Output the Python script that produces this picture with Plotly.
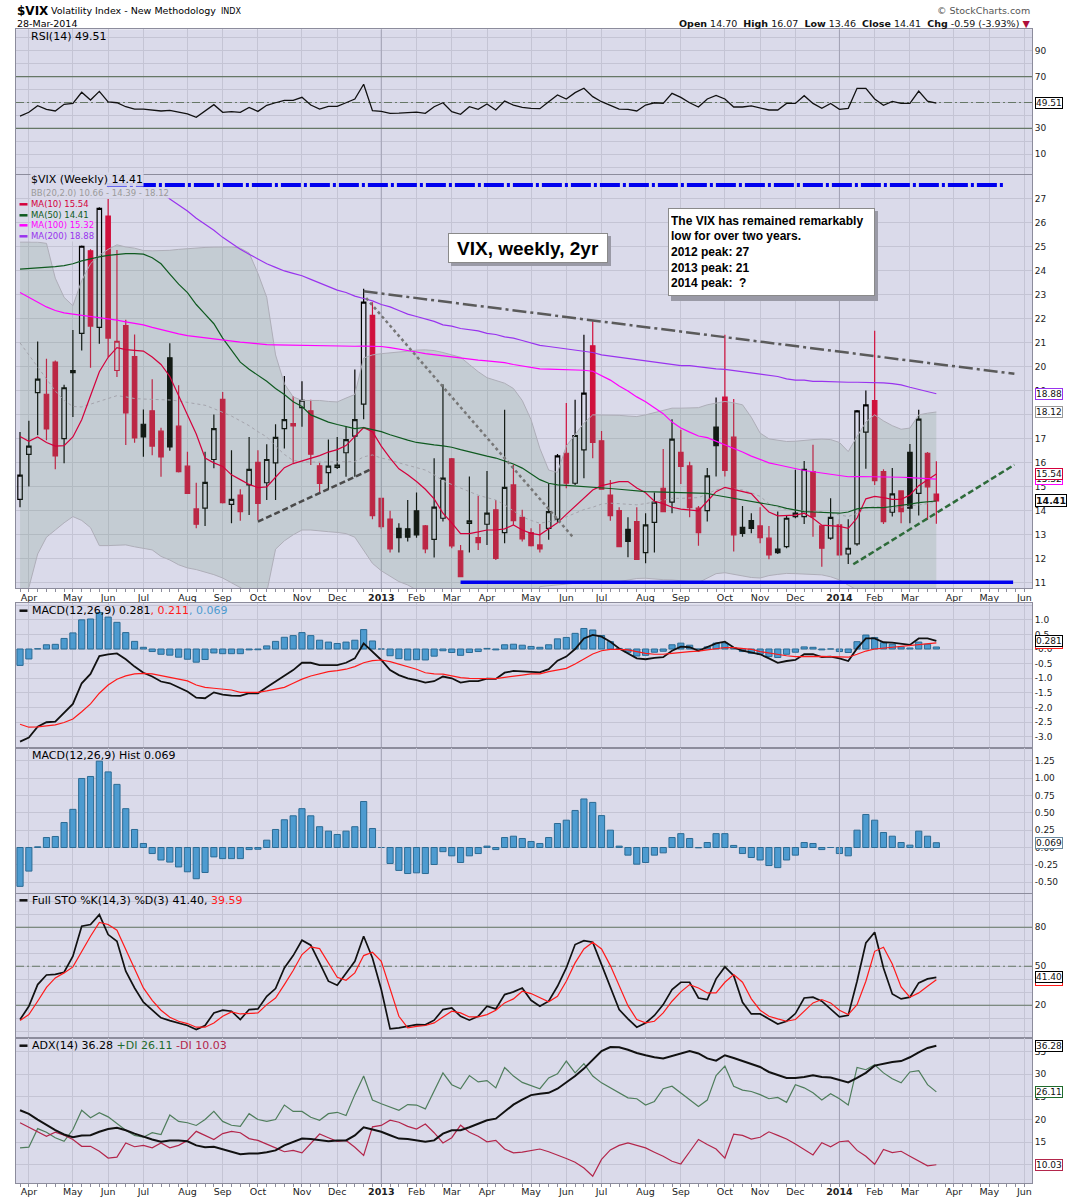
import pandas as pd
import plotly.graph_objects as go

# ── Weekly bars, dated by the Monday of each week (26-Mar-2012 .. 24-Mar-2014) ─
WEEKS = pd.date_range("2012-03-26", periods=105, freq="7D")

OPEN = [14.48, 16.35, 18.93, 18.86, 20.20, 17.01, 19.76, 21.40, 24.84, 21.65,
        26.29, 19.85, 21.72, 20.43, 17.61, 18.17, 17.32, 20.38, 17.53, 15.86,
        14.08, 14.11, 16.14, 18.65, 14.27, 14.66, 15.08, 16.02, 15.17, 16.00,
        17.43, 17.64, 18.30, 18.17, 15.88, 15.59, 15.81, 16.42, 17.11, 18.45,
        22.15, 14.52, 13.66, 13.27, 13.25, 14.00, 13.37, 12.81, 13.69, 16.17,
        12.33, 13.48, 12.88, 13.44, 14.04, 13.09, 15.08, 13.73, 13.09, 12.58,
        13.27, 13.65, 16.40, 15.15, 16.54, 20.88, 16.92, 14.66, 14.01, 13.23,
        13.55, 12.26, 13.52, 14.94, 14.36, 16.44, 15.87, 14.11, 14.01, 17.49,
        18.74, 17.07, 13.31, 13.59, 13.37, 12.86, 12.40, 12.51, 13.76, 13.76,
        15.64, 13.37, 12.86, 13.41, 12.20, 12.62, 17.28, 18.59, 15.64, 13.94,
        14.83, 16.44, 14.73, 16.40, 14.70]
HIGH = [17.29, 17.75, 21.06, 20.34, 20.27, 19.26, 21.54, 25.06, 24.90, 26.66,
        27.00, 24.87, 21.97, 21.35, 18.22, 19.49, 17.46, 20.99, 19.23, 16.46,
        15.17, 16.46, 18.02, 18.95, 16.53, 14.90, 17.08, 16.53, 16.78, 17.61,
        19.62, 18.79, 19.40, 18.63, 16.00, 16.97, 17.08, 17.53, 19.89, 23.26,
        22.70, 14.55, 14.00, 13.48, 14.45, 14.76, 13.41, 16.19, 19.28, 16.20,
        12.58, 15.43, 14.62, 15.66, 14.45, 18.21, 15.92, 14.04, 13.27, 13.45,
        15.15, 16.37, 18.49, 18.63, 21.34, 21.90, 17.33, 15.29, 14.15, 13.73,
        14.15, 13.90, 14.76, 16.58, 17.82, 17.38, 16.05, 14.20, 15.78, 18.72,
        21.34, 18.66, 14.20, 13.90, 14.15, 13.37, 13.97, 13.79, 15.71, 16.08,
        16.75, 13.40, 14.52, 13.65, 13.65, 18.20, 19.02, 21.51, 15.73, 15.78,
        14.85, 16.79, 18.21, 16.45, 16.07]
LOW = [14.15, 15.01, 17.15, 16.94, 15.73, 15.98, 17.91, 20.68, 19.96, 20.96,
       20.41, 19.58, 16.74, 16.84, 16.25, 16.32, 15.42, 16.50, 15.60, 14.70,
       13.27, 13.37, 15.77, 14.31, 13.48, 13.59, 13.83, 13.62, 14.45, 14.45,
       16.60, 16.00, 17.50, 15.91, 14.73, 14.87, 15.74, 15.42, 15.42, 17.82,
       13.65, 13.24, 12.26, 12.26, 12.72, 12.88, 12.23, 12.05, 13.55, 12.44,
       11.23, 12.26, 12.37, 12.58, 11.95, 12.65, 13.41, 12.72, 12.51, 12.26,
       12.79, 13.51, 14.94, 15.08, 15.36, 16.19, 14.88, 13.59, 12.50, 12.06,
       11.96, 11.81, 12.26, 13.95, 13.90, 15.12, 13.73, 12.54, 13.55, 15.43,
       15.43, 12.30, 12.92, 13.06, 12.65, 11.98, 12.20, 12.44, 13.69, 13.45,
       12.92, 11.67, 12.79, 12.12, 11.78, 12.54, 15.75, 15.08, 13.45, 13.76,
       13.48, 13.48, 13.80, 13.62, 13.46]
CLOSE = [15.49, 16.70, 19.49, 17.42, 16.29, 19.13, 19.85, 25.03, 21.70, 26.61,
         21.20, 21.07, 18.08, 17.04, 17.08, 16.70, 16.25, 16.67, 15.63, 14.73,
         13.44, 15.19, 17.43, 14.34, 14.48, 13.97, 15.73, 14.31, 16.14, 17.06,
         17.80, 17.54, 18.61, 16.36, 15.14, 15.86, 15.91, 16.97, 17.80, 22.70,
         13.80, 13.34, 12.41, 12.88, 12.90, 13.00, 12.41, 14.15, 15.36, 12.54,
         11.26, 13.58, 12.67, 13.90, 12.02, 14.98, 13.59, 12.83, 12.55, 12.41,
         13.97, 16.29, 15.15, 17.14, 18.91, 16.85, 14.90, 13.80, 12.51, 12.72,
         11.98, 13.41, 14.36, 13.97, 16.99, 15.85, 14.13, 13.09, 15.46, 16.72,
         15.68, 13.00, 13.06, 13.27, 12.88, 12.16, 12.26, 13.69, 13.90, 15.73,
         13.76, 12.44, 13.73, 12.16, 12.44, 18.17, 18.42, 15.26, 13.55, 14.71,
         13.97, 14.11, 17.82, 15.00, 14.41]

# ── Price overlays ────────────────────────────────────────────────────────────
BB_UPPER = [25.2, 25.2, 25.2, 25.15, 23.7, 22.9, 22.55, 23.6, 24.3, 24.65,
            24.9, 25.09, 25.0, 24.95, 24.85, 24.84, 24.84, 24.86, 24.9, 24.93,
            24.97, 24.98, 24.99, 25.0, 25.0, 24.95, 24.75, 23.9, 22.9, 20.5,
            19.3, 18.75, 18.6, 18.6, 18.6, 18.56, 18.54, 18.7, 18.85, 20.37,
            20.5, 20.55, 20.6, 20.62, 20.65, 20.7, 20.71, 20.68, 20.6, 20.5,
            20.4, 20.1, 19.8, 19.55, 19.45, 19.32, 19.1, 18.6, 17.8, 16.6,
            15.7, 15.6, 16.7, 17.2, 17.65, 18.0, 18.0, 18.0, 17.98, 17.95,
            17.93, 18.0, 18.1, 18.2, 18.28, 18.28, 18.28, 18.3, 18.42, 18.5,
            18.56, 18.5, 18.42, 17.9, 17.24, 17.0, 16.93, 16.89, 16.9, 16.95,
            16.97, 16.99, 16.97, 16.85, 16.47, 17.1, 17.7, 18.0, 17.75, 17.55,
            17.4, 17.45, 18.0, 18.07, 18.12]
BB_LOWER = [10.5, 10.8, 12.2, 12.9, 13.2, 13.5, 13.76, 13.6, 13.3, 12.55,
            12.55, 12.57, 12.58, 12.5, 12.42, 12.37, 12.1, 11.95, 11.75, 11.62,
            11.55, 11.45, 11.34, 11.2, 11.0, 10.78, 10.6, 10.5, 10.6, 12.4,
            12.75, 13.0, 13.2, 13.2, 13.15, 13.13, 13.1, 13.05, 12.9, 12.37,
            11.81, 11.5, 11.26, 11.05, 10.91, 10.7, 10.6, 10.3, 9.9, 9.7,
            9.5, 9.5, 9.5, 9.5, 9.4, 9.2, 9.0, 9.0, 9.5, 10.84,
            10.88, 10.92, 10.96, 10.98, 10.98, 10.98, 10.98, 11.0, 11.05, 11.1,
            11.18, 11.19, 11.15, 11.13, 11.12, 11.1, 11.05, 11.01, 11.2, 11.38,
            11.42, 11.35, 11.28, 11.22, 11.2, 11.3, 11.35, 11.39, 11.38, 11.36,
            11.35, 11.33, 11.25, 11.12, 10.9, 10.7, 10.6, 10.5, 10.5, 10.55,
            10.6, 10.6, 10.5, 10.6, 10.66]
BB_MID = [21.0, 20.5, 20.0, 19.5, 19.0, 18.6, 18.35, 18.33, 18.45, 18.58,
          18.7, 18.8, 18.75, 18.68, 18.66, 18.65, 18.64, 18.62, 18.58, 18.53,
          18.48, 18.4, 18.26, 18.1, 17.95, 17.75, 17.55, 17.3, 17.08, 16.7,
          16.35, 16.1, 16.04, 16.03, 16.03, 16.04, 16.04, 16.05, 16.05, 16.25,
          16.33, 16.2, 16.12, 16.0, 15.91, 15.8, 15.7, 15.5, 15.25, 15.1,
          14.95, 14.8, 14.65, 14.55, 14.45, 14.25, 14.0, 13.75, 13.6, 13.48,
          13.55, 13.62, 13.75, 13.9, 14.05, 14.15, 14.28, 14.32, 14.3, 14.27,
          14.25, 14.3, 14.38, 14.45, 14.52, 14.52, 14.52, 14.55, 14.7, 14.88,
          14.94, 14.9, 14.87, 14.75, 14.6, 14.3, 14.15, 14.05, 14.02, 14.0,
          13.98, 13.97, 13.9, 13.8, 13.76, 13.9, 14.1, 14.18, 14.15, 14.11,
          14.15, 14.2, 14.25, 14.3, 14.39]
MA10 = [17.1, 16.9, 17.08, 16.85, 16.7, 16.72, 17.08, 17.8, 18.8, 19.8,
        20.4, 20.8, 20.72, 20.68, 20.66, 20.41, 20.1, 19.6, 18.8, 18.0,
        17.2, 16.2, 16.0, 15.85, 15.5, 15.3, 15.1, 14.97, 15.0, 15.4,
        15.8, 15.97, 16.08, 16.2, 16.3, 16.45, 16.55, 16.72, 17.1, 17.47,
        17.3, 16.7, 16.2, 15.75, 15.5, 15.22, 14.9, 14.5, 13.9, 13.5,
        13.05, 13.05, 13.12, 13.2, 13.2, 13.25, 13.41, 13.2, 13.06, 13.0,
        13.25, 13.5, 13.85, 14.18, 14.55, 14.87, 15.05, 15.15, 15.22, 15.22,
        14.95, 14.75, 14.4, 14.3, 14.15, 14.07, 14.02, 14.0, 14.4, 14.8,
        14.98, 14.9, 14.8, 14.72, 14.32, 13.95, 13.79, 13.79, 13.82, 13.9,
        13.69, 13.4, 13.37, 13.35, 13.27, 13.7, 14.5, 14.6, 14.55, 14.48,
        14.48, 14.66, 15.05, 15.3, 15.54]
MA50 = [24.08, 24.1, 24.12, 24.15, 24.18, 24.22, 24.3, 24.42, 24.52, 24.59,
        24.65, 24.7, 24.72, 24.72, 24.7, 24.55, 24.3, 23.87, 23.45, 23.1,
        22.6, 22.2, 21.8, 21.2, 20.7, 20.2, 19.9, 19.65, 19.4, 19.1,
        18.85, 18.55, 18.35, 18.0, 17.85, 17.7, 17.6, 17.5, 17.43, 17.47,
        17.4, 17.3, 17.17, 17.05, 16.95, 16.85, 16.79, 16.75, 16.71, 16.65,
        16.55, 16.45, 16.35, 16.28, 16.2, 16.07, 15.95, 15.78, 15.55, 15.3,
        15.15, 15.08, 15.06, 15.04, 15.02, 15.0, 14.96, 14.93, 14.9, 14.86,
        14.82, 14.8, 14.79, 14.78, 14.76, 14.75, 14.74, 14.73, 14.73, 14.65,
        14.59, 14.52, 14.45, 14.38, 14.32, 14.26, 14.2, 14.1, 14.02, 13.97,
        13.95, 13.93, 13.92, 13.9, 13.95, 14.08, 14.13, 14.13, 14.13, 14.18,
        14.22, 14.28, 14.34, 14.38, 14.41]
MA100 = [23.1, 22.9, 22.7, 22.5, 22.35, 22.25, 22.2, 22.15, 22.12, 22.07,
         22.0, 21.95, 21.88, 21.82, 21.75, 21.65, 21.55, 21.45, 21.38, 21.3,
         21.25, 21.2, 21.15, 21.1, 21.07, 21.03, 21.0, 20.96, 20.93, 20.92,
         20.91, 20.9, 20.9, 20.89, 20.88, 20.87, 20.86, 20.86, 20.86, 20.87,
         20.87, 20.85, 20.8, 20.75, 20.7, 20.62, 20.55, 20.5, 20.45, 20.4,
         20.36, 20.32, 20.28, 20.25, 20.22, 20.18, 20.1, 20.03, 19.96, 19.92,
         19.91, 19.9, 19.89, 19.88, 19.86, 19.82, 19.65, 19.45, 19.2, 19.0,
         18.75, 18.55, 18.3, 18.05, 17.7, 17.45, 17.28, 17.12, 17.05, 16.9,
         16.78, 16.6, 16.45, 16.28, 16.15, 16.0, 15.92, 15.83, 15.75, 15.68,
         15.63, 15.58, 15.52, 15.46, 15.42, 15.43, 15.43, 15.43, 15.43, 15.42,
         15.4, 15.38, 15.35, 15.33, 15.32]
# first weeks sit above the panel / behind the legend
MA200 = [None] * 16 + [
    27.25, 27.0, 26.75, 26.5, 26.2, 25.95, 25.7, 25.4, 25.15, 24.9,
    24.7, 24.5, 24.3, 24.15, 24.0, 23.9, 23.8, 23.65, 23.5, 23.35,
    23.2, 23.1, 22.95, 22.85, 22.75, 22.6, 22.5, 22.35, 22.2, 22.1,
    22.0, 21.9, 21.75, 21.7, 21.6, 21.55, 21.5, 21.4, 21.35, 21.25,
    21.2, 21.1, 21.0, 20.9, 20.85, 20.8, 20.75, 20.7, 20.65, 20.6,
    20.5, 20.45, 20.4, 20.35, 20.3, 20.25, 20.2, 20.15, 20.1, 20.05,
    20.05, 20.0, 19.95, 19.92, 19.9, 19.85, 19.8, 19.75, 19.7, 19.65,
    19.6, 19.5, 19.45, 19.45, 19.4, 19.4, 19.38, 19.37, 19.36, 19.36,
    19.36, 19.35, 19.33, 19.3, 19.25, 19.15, 19.05, 18.95, 18.88]

# ── Indicator panels ──────────────────────────────────────────────────────────
RSI = [39.5, 42.4, 47.5, 44.7, 43.4, 48.6, 49.3, 57.9, 51.9, 58.6,
       50.4, 49.8, 46.7, 44.9, 44.9, 44.4, 43.4, 43.9, 42.4, 41.1,
       38.5, 43.4, 48.3, 42.4, 42.9, 42.4, 46.2, 43.1, 47.8, 49.8,
       51.7, 51.7, 54.0, 48.0, 44.9, 47.0, 47.0, 49.8, 52.7, 64.1,
       43.6, 43.1, 41.6, 41.8, 42.1, 42.6, 41.6, 46.7, 49.8, 42.9,
       40.8, 46.7, 44.7, 48.8, 44.2, 51.1, 48.0, 46.2, 45.5, 45.2,
       50.6, 55.8, 52.7, 57.6, 61.0, 54.5, 50.6, 48.0, 44.9, 44.7,
       43.4, 48.0, 49.8, 49.3, 57.1, 54.0, 49.8, 46.5, 52.7, 55.5,
       52.7, 46.5, 46.5, 47.3, 45.7, 44.2, 44.2, 49.3, 49.3, 55.3,
       49.3, 45.5, 49.3, 44.7, 45.5, 61.0, 61.0, 52.7, 47.8, 50.9,
       49.3, 49.3, 58.9, 51.1, 49.51]
MACD = [-3.16, -3.02, -2.65, -2.50, -2.48, -2.19, -1.875, -1.17, -0.85, -0.24,
        -0.18, -0.15, -0.35, -0.60, -0.81, -0.94, -1.11, -1.17, -1.31, -1.45,
        -1.66, -1.68, -1.48, -1.56, -1.59, -1.60, -1.51, -1.51, -1.31, -1.11,
        -0.89, -0.72, -0.47, -0.47, -0.55, -0.55, -0.55, -0.47, -0.32, 0.19,
        -0.09, -0.375, -0.72, -0.89, -1.00, -1.06, -1.15, -1.10, -0.94, -1.00,
        -1.15, -1.10, -1.10, -1.01, -1.02, -0.81, -0.75, -0.76, -0.78, -0.80,
        -0.69, -0.40, -0.26, 0.00, 0.36, 0.48, 0.42, 0.25, 0.02, -0.15,
        -0.32, -0.35, -0.30, -0.28, -0.06, 0.08, 0.06, -0.06, 0.06, 0.19,
        0.25, 0.05, -0.06, -0.125, -0.18, -0.32, -0.47, -0.41, -0.375, -0.18,
        -0.18, -0.28, -0.26, -0.32, -0.41, 0.02, 0.36, 0.36, 0.23, 0.22,
        0.17, 0.14, 0.36, 0.36, 0.281]
SIGNAL = [-2.57, -2.67, -2.66, -2.63, -2.59, -2.51, -2.39, -2.14, -1.875, -1.51,
          -1.23, -1.03, -0.92, -0.85, -0.83, -0.85, -0.91, -0.97, -1.03, -1.09,
          -1.23, -1.31, -1.34, -1.375, -1.40, -1.48, -1.49, -1.48, -1.43, -1.375,
          -1.31, -1.17, -1.03, -0.92, -0.85, -0.77, -0.74, -0.69, -0.60, -0.47,
          -0.40, -0.375, -0.43, -0.51, -0.60, -0.69, -0.81, -0.85, -0.86, -0.92,
          -0.98, -1.00, -1.00, -1.00, -1.01, -0.97, -0.92, -0.89, -0.85, -0.85,
          -0.77, -0.72, -0.66, -0.51, -0.35, -0.17, -0.06, -0.01, -0.01, -0.03,
          -0.09, -0.15, -0.18, -0.18, -0.15, -0.11, -0.09, -0.07, -0.03, 0.00,
          0.05, 0.05, 0.01, -0.01, -0.09, -0.14, -0.19, -0.23, -0.26, -0.25,
          -0.24, -0.25, -0.26, -0.26, -0.28, -0.18, -0.07, 0.00, 0.03, 0.06,
          0.08, 0.11, 0.16, 0.19, 0.211]
HIST = [-0.56, -0.34, 0.01, 0.144, 0.159, 0.36, 0.55, 0.995, 1.024, 1.245,
        1.09, 0.91, 0.56, 0.26, 0.058, -0.087, -0.18, -0.21, -0.28, -0.35,
        -0.45, -0.36, -0.135, -0.16, -0.16, -0.16, -0.03, -0.025, 0.106, 0.26,
        0.40, 0.457, 0.56, 0.457, 0.30, 0.236, 0.188, 0.236, 0.30, 0.663,
        0.274, 0.0, -0.23, -0.33, -0.375, -0.365, -0.375, -0.245, -0.06, -0.12,
        -0.216, -0.12, -0.087, 0.02, -0.03, 0.144, 0.163, 0.13, 0.087, 0.058,
        0.144, 0.346, 0.394, 0.534, 0.70, 0.65, 0.46, 0.25, 0.02, -0.11,
        -0.24, -0.216, -0.11, -0.077, 0.144, 0.20, 0.13, -0.005, 0.072, 0.20,
        0.20, 0.03, -0.087, -0.144, -0.18, -0.26, -0.29, -0.18, -0.11, 0.072,
        0.058, -0.03, 0.0, -0.087, -0.12, 0.25, 0.476, 0.394, 0.216, 0.163,
        0.072, 0.034, 0.236, 0.163, 0.069]
STO_K = [9.0, 19.2, 35.9, 43.3, 43.8, 45.4, 57.7, 80.8, 82.1, 89.7,
         74.4, 69.2, 46.2, 33.3, 22.3, 16.2, 10.3, 8.2, 6.4, 4.4,
         1.3, 4.4, 14.1, 16.2, 15.4, 9.0, 16.7, 17.2, 26.9, 32.8,
         48.7, 58.2, 70.0, 66.2, 52.6, 38.5, 35.4, 44.4, 53.8, 73.1,
         56.4, 32.1, 1.8, 2.6, 3.8, 5.1, 4.9, 8.5, 16.7, 17.9,
         11.5, 8.5, 11.5, 19.2, 17.2, 28.2, 30.3, 33.3, 23.8, 19.2,
         23.1, 34.6, 48.7, 66.7, 69.7, 68.5, 51.3, 33.3, 16.7, 9.5,
         3.1, 6.4, 12.1, 20.5, 32.1, 37.7, 37.7, 25.6, 24.4, 40.3,
         49.5, 42.8, 22.3, 13.3, 13.3, 9.5, 5.6, 7.7, 13.6, 25.6,
         26.2, 23.1, 16.7, 11.0, 12.3, 38.5, 67.9, 76.2, 48.7, 28.7,
         24.9, 26.2, 37.2, 40.3, 41.40]
STO_D = [8.2, 12.8, 23.1, 33.8, 41.0, 44.9, 49.5, 61.5, 73.1, 83.8,
         82.1, 77.7, 62.8, 47.4, 33.3, 23.8, 16.2, 10.8, 7.7, 5.9,
         3.1, 3.1, 6.4, 11.5, 14.9, 13.3, 13.6, 14.1, 20.5, 25.6,
         35.9, 46.7, 59.0, 64.9, 63.6, 52.6, 41.5, 39.2, 44.9, 58.2,
         60.8, 53.8, 32.1, 11.5, 2.6, 3.8, 4.4, 6.4, 11.0, 15.4,
         14.1, 11.0, 11.0, 12.8, 16.2, 21.8, 24.9, 30.8, 29.0, 25.6,
         22.6, 26.9, 38.5, 52.6, 63.3, 68.5, 63.3, 50.5, 34.6, 19.7,
         9.0, 6.4, 7.7, 14.1, 23.1, 30.3, 35.9, 33.3, 29.5, 29.5,
         37.7, 43.6, 37.7, 24.9, 16.2, 11.5, 9.5, 7.7, 9.0, 15.4,
         21.8, 24.4, 21.8, 16.2, 12.8, 20.5, 38.5, 61.5, 64.6, 51.8,
         34.1, 26.2, 29.5, 34.6, 39.59]
ADX = [22.06, 21.25, 20.0, 18.75, 17.65, 16.7, 16.1, 16.5, 16.55, 17.3,
       17.9, 18.2, 17.65, 16.9, 16.2, 15.6, 15.1, 15.4, 15.4, 15.2,
       14.3, 13.9, 14.0, 13.5, 12.9, 12.35, 12.5, 12.5, 12.8, 13.2,
       14.3, 15.0, 15.8, 15.7, 15.4, 15.2, 15.4, 15.4, 16.5, 18.3,
       17.8, 17.3, 16.55, 15.8, 15.7, 15.4, 15.1, 15.4, 16.9, 17.65,
       17.65, 18.3, 19.0, 19.85, 20.2, 21.8, 23.3, 24.4, 25.4, 25.7,
       25.9, 26.8, 28.2, 29.6, 31.25, 33.2, 35.1, 36.0, 35.95, 35.4,
       34.7, 34.2, 33.75, 33.5, 34.0, 34.6, 35.1, 34.6, 33.5, 33.0,
       34.2, 33.6, 32.9, 32.3, 31.6, 30.5, 29.8, 29.2, 29.2, 29.4,
       29.8, 29.4, 29.3, 28.8, 28.2, 29.2, 30.3, 31.9, 32.35, 32.7,
       32.9, 33.75, 34.85, 35.8, 36.28]
PLUS_DI = [13.75, 13.9, 18.0, 17.2, 16.0, 15.2, 17.8, 22.06, 20.4, 21.5,
           20.6, 19.1, 17.65, 16.5, 16.1, 17.1, 16.7, 21.0, 19.6, 19.3,
           18.7, 20.0, 21.8, 19.6, 18.75, 18.5, 21.3, 20.0, 19.6, 20.0,
           23.2, 21.8, 21.8, 20.5, 19.85, 21.3, 21.6, 20.9, 25.5, 29.6,
           24.3, 23.5, 22.8, 22.06, 23.3, 23.2, 22.35, 26.4, 30.3, 27.7,
           26.8, 29.7, 28.3, 28.6, 27.0, 31.5, 29.6, 28.2, 27.5, 26.8,
           29.2, 30.1, 32.9, 30.3, 32.35, 29.6, 28.1, 27.0, 25.9, 24.8,
           24.6, 23.2, 24.0, 26.8, 27.35, 25.9, 24.4, 22.9, 24.3, 29.7,
           31.8, 27.35, 26.5, 26.2, 25.5, 24.6, 24.9, 23.8, 27.7, 27.0,
           25.9, 24.3, 25.7, 24.6, 23.2, 31.5, 31.0, 32.1, 30.3, 29.0,
           28.1, 30.5, 30.8, 27.7, 26.11]
MINUS_DI = [19.3, 18.3, 17.2, 16.3, 17.2, 16.55, 15.6, 14.1, 14.1, 13.0,
            11.5, 11.7, 14.85, 14.0, 14.3, 13.75, 14.85, 13.75, 14.3, 15.4,
            17.4, 16.5, 15.6, 16.9, 17.4, 17.1, 15.8, 15.4, 14.5, 13.75,
            12.9, 13.2, 12.65, 14.85, 16.8, 16.0, 15.2, 15.4, 13.9, 12.1,
            18.4, 18.7, 19.85, 19.4, 18.5, 17.9, 19.0, 17.1, 14.85, 16.0,
            18.75, 17.2, 16.3, 15.1, 15.4, 13.5, 12.65, 12.8, 13.2, 13.5,
            12.9, 12.2, 11.4, 10.6, 9.3, 7.5, 11.2, 13.3, 14.3, 14.85,
            14.3, 13.75, 12.8, 11.9, 10.8, 10.2, 12.9, 15.6, 14.5, 13.5,
            11.5, 16.8, 16.5, 15.7, 16.1, 17.3, 16.5, 15.7, 14.6, 13.4,
            12.2, 14.9, 14.0, 15.1, 15.3, 13.2, 11.9, 10.15, 13.4, 12.7,
            13.0, 11.9, 10.8, 9.8, 10.03]

# hand-drawn chart lines: (start date, start price, end date, end price)
TRENDLINES = [
    ("2012-06-03", 27.58, "2014-05-16", 27.58),   # blue ceiling
    ("2013-03-11", 11.02, "2014-05-24", 11.02),   # blue floor
    ("2012-12-24", 23.15, "2014-05-25", 19.71),   # falling peaks
    ("2012-12-26", 22.87, "2013-06-08", 12.92),   # dotted decline
    ("2012-10-01", 13.55, "2012-12-29", 15.71),   # 2012 rising lows
    ("2014-01-17", 11.77, "2014-05-25", 15.92),   # 2014 rising lows
]

# ── Axis ticks ────────────────────────────────────────────────────────────────
MONTH_TICKS = ["2012-04-02", "2012-05-07", "2012-06-04", "2012-07-02", "2012-08-06",
               "2012-09-03", "2012-10-01", "2012-11-05", "2012-12-03", "2013-01-07",
               "2013-02-04", "2013-03-04", "2013-04-01", "2013-05-06", "2013-06-03",
               "2013-07-01", "2013-08-05", "2013-09-02", "2013-10-07", "2013-11-04",
               "2013-12-02", "2014-01-06", "2014-02-03", "2014-03-03", "2014-04-07",
               "2014-05-05", "2014-06-02"]
MONTH_LABELS = ["Apr", "May", "Jun", "Jul", "Aug", "Sep", "Oct", "Nov", "Dec",
                "<b>2013</b>", "Feb", "Mar", "Apr", "May", "Jun", "Jul", "Aug", "Sep",
                "Oct", "Nov", "Dec", "<b>2014</b>", "Feb", "Mar", "Apr", "May", "Jun"]
YEAR_STARTS = ["2013-01-07", "2014-01-06"]
RSI_TICKS = [0, 10, 20, 30, 40, 50, 60, 70, 80, 90, 100]
RSI_LABELS = ["", "10", "", "30", "", "", "", "70", "", "90", ""]
PRICE_TICKS = [11, 12, 13, 14, 15, 16, 17, 18, 19, 20, 21, 22, 23, 24, 25, 26, 27]
PRICE_LABELS = [str(v) for v in PRICE_TICKS]
MACD_TICKS = [-3.0, -2.5, -2.0, -1.5, -1.0, -0.5, 0.0, 0.5, 1.0, 1.5]
MACD_LABELS = ["-3.0", "-2.5", "-2.0", "-1.5", "-1.0", "-0.5", "-0.0", "0.5", "1.0", ""]
HIST_TICKS = [-0.5, -0.25, 0.0, 0.25, 0.5, 0.75, 1.0, 1.25]
HIST_LABELS = ["-0.50", "-0.25", "0.00", "0.25", "0.50", "0.75", "1.00", "1.25"]
STO_TICKS = [0, 10, 20, 30, 40, 50, 60, 70, 80, 90, 100]
STO_LABELS = ["", "", "20", "", "", "50", "", "", "80", "", ""]
ADX_TICKS = [10, 15, 20, 25, 30, 35]
ADX_LABELS = ["10", "15", "20", "25", "30", "35"]

for series in (OPEN, HIGH, LOW, CLOSE, BB_UPPER, BB_LOWER, BB_MID, MA10, MA50, MA100,
               MA200, RSI, MACD, SIGNAL, HIST, STO_K, STO_D, ADX, PLUS_DI, MINUS_DI):
    assert len(series) == len(WEEKS), len(series)

# ── Colours ───────────────────────────────────────────────────────────────────
C_BG      = "#dadaea"
C_GRID    = "#c4c4d4"
C_FRAME   = "#8c8c9c"
C_YEAR    = "#a2a2b4"
C_RED     = "#d0103c"
C_MA10    = "#d4003c"
C_MA50    = "#0f5a20"
C_MA100   = "#ff00ff"
C_MA200   = "#9933ee"
C_BB      = "#aeaeb8"
C_BB_FILL = "rgba(100,145,110,0.18)"   # translucent: the bars show through it
C_HIST    = "#4d9bd0"
C_HIST_LN = "#2b6b94"
C_PDI     = "#4f7d5c"
C_PDI_TXT = "#1f6b2c"
C_MDI     = "#b3264b"
C_REF     = "#667766"

# ── Page geometry (pixels of the 1075x1200 page) ─────────────────────────────
FIG_W, FIG_H = 1075, 1200
PLOT_L, PLOT_R = 16, 1032
WEEK_MS = 7 * 24 * 3600 * 1000
X_RANGE = ["2012-03-22 19:00", "2014-06-08"]


def fx(px):
    return (px - PLOT_L) / (PLOT_R - PLOT_L)


def fy(py):
    return 1 - py / FIG_H


# panel: top px, bottom px, y range, ticks, tick labels
PANELS = [
    (29.3, 174.0, [-5.4, 106.7], RSI_TICKS, RSI_LABELS),
    (175.0, 588.3, [10.77, 28.0], PRICE_TICKS, PRICE_LABELS),
    (603.3, 748.3, [-3.39, 1.56], MACD_TICKS, MACD_LABELS),
    (748.3, 893.3, [-0.66, 1.43], HIST_TICKS, HIST_LABELS),
    (894.0, 1038.0, [-5.2, 105.6], STO_TICKS, STO_LABELS),
    (1038.0, 1183.0, [6.0, 38.0], ADX_TICKS, ADX_LABELS),
]


def ax(i):
    return ("x" if i == 1 else f"x{i}"), ("y" if i == 1 else f"y{i}")


def line(i, y, color, width, dash="solid", x=None):
    xa, ya = ax(i)
    return go.Scatter(x=WEEKS if x is None else x, y=y, mode="lines", xaxis=xa, yaxis=ya,
                      line=dict(color=color, width=width, dash=dash),
                      hoverinfo="skip", connectgaps=False)


fig = go.Figure()

# darker year separators, under everything else
for i, (top, bot, yr, tv, tt) in enumerate(PANELS, start=1):
    for d in YEAR_STARTS:
        fig.add_trace(line(i, yr, C_YEAR, 1, x=[d, d]))

# overbought / oversold guides
for i, levels in ((1, (30, 50, 70)), (5, (20, 50, 80))):
    for k, lv in enumerate(levels):
        fig.add_trace(line(i, [lv, lv], C_REF, 1.2,
                           "8px,3px,2px,3px" if k == 1 else "solid", x=X_RANGE))

# RSI
fig.add_trace(line(1, RSI, "#111111", 1.3))

# Price: candles (box layer) sit under the translucent Bollinger band
up = [i == 0 or CLOSE[i] >= CLOSE[i - 1] for i in range(len(CLOSE))]
for want, colour in ((True, "#000000"), (False, C_RED)):
    idx = [i for i, u in enumerate(up) if u == want]
    fig.add_trace(go.Candlestick(
        x=[WEEKS[i] for i in idx],
        open=[OPEN[i] for i in idx], high=[HIGH[i] for i in idx],
        low=[LOW[i] for i in idx], close=[CLOSE[i] for i in idx],
        increasing=dict(line=dict(color=colour, width=1.2), fillcolor="rgba(0,0,0,0)"),
        decreasing=dict(line=dict(color=colour, width=1.2), fillcolor=colour),
        whiskerwidth=0, xaxis="x2", yaxis="y2", hoverinfo="skip",
    ))

fig.add_trace(line(2, BB_UPPER, C_BB, 1))
lower = line(2, BB_LOWER, C_BB, 1)
lower.update(fill="tonexty", fillcolor=C_BB_FILL)
fig.add_trace(lower)
fig.add_trace(line(2, BB_MID, "#a4a4ac", 1, "dot"))

fig.add_trace(line(2, MA10, C_MA10, 1.2))
fig.add_trace(line(2, MA50, C_MA50, 1.2))
fig.add_trace(line(2, MA100, C_MA100, 1.2))
fig.add_trace(line(2, MA200, C_MA200, 1.2))

# MACD with its histogram behind
for i in (3, 4):
    xa, ya = ax(i)
    fig.add_trace(go.Bar(x=WEEKS, y=HIST, xaxis=xa, yaxis=ya,
                         marker=dict(color=C_HIST, line=dict(color=C_HIST_LN, width=1)),
                         hoverinfo="skip"))
fig.add_trace(line(3, MACD, "#111111", 1.8))
fig.add_trace(line(3, SIGNAL, "#ff1a1a", 1.2))

# Full stochastics
fig.add_trace(line(5, STO_K, "#111111", 1.7))
fig.add_trace(line(5, STO_D, "#ff1a1a", 1.2))

# ADX
fig.add_trace(line(6, PLUS_DI, C_PDI, 1.2))
fig.add_trace(line(6, MINUS_DI, C_MDI, 1.2))
fig.add_trace(line(6, ADX, "#111111", 2.0))

# ── Axes ──────────────────────────────────────────────────────────────────────
layout = {}
for i, (top, bot, yr, tv, tt) in enumerate(PANELS, start=1):
    xa, ya = ax(i)
    xax = dict(type="date", range=X_RANGE, domain=[0, 1], anchor=ya,
               tickmode="array", tickvals=MONTH_TICKS, ticktext=MONTH_LABELS,
               showticklabels=i in (2, 6), ticks="",
               tickfont=dict(size=9.5, color="#222222"),
               showgrid=True, gridcolor=C_GRID, gridwidth=1,
               showline=True, mirror=True, linecolor=C_FRAME, linewidth=1,
               zeroline=False, rangeslider=dict(visible=False))
    if i != 1:
        xax["matches"] = "x"
    if i in (2, 6):
        xax["minor"] = dict(ticks="outside", ticklen=3, tickcolor=C_FRAME,
                            dtick=WEEK_MS, tick0="2012-03-26", showgrid=False)
    yax = dict(domain=[fy(bot), fy(top)], range=yr, anchor=xa, side="right",
               tickmode="array", tickvals=tv, ticktext=tt, ticks="",
               tickfont=dict(size=9, color="#222222"),
               showgrid=True, gridcolor=C_GRID, gridwidth=1,
               showline=True, mirror=True, linecolor=C_FRAME, linewidth=1,
               zeroline=False)
    layout["xaxis" if i == 1 else f"xaxis{i}"] = xax
    layout["yaxis" if i == 1 else f"yaxis{i}"] = yax

# ── Shapes ────────────────────────────────────────────────────────────────────
shapes = []
TREND_STYLES = [
    dict(color="#0000ee", width=4, dash="20px,3px,3px,3px"),
    dict(color="#0000ee", width=3.5),
    dict(color="#5a5a5a", width=2.5, dash="14px,4px,3px,4px"),
    dict(color="#767676", width=2.5, dash="dot"),
    dict(color="#4a4a4a", width=2.5, dash="6px,3px"),
    dict(color="#2e6b3a", width=2.5, dash="6px,3px"),
]
for (x0, y0, x1, y1), style in zip(TRENDLINES, TREND_STYLES):
    shapes.append(dict(type="line", xref="x2", yref="y2", x0=x0, y0=y0, x1=x1, y1=y1,
                       layer="above", line=style))

# legend colour dashes
for py, colour in ((204.3, C_MA10), (215.3, C_MA50), (225.3, C_MA100), (236.3, C_MA200),
                   (610.7, "#111111"), (900.3, "#111111"), (1045.7, "#111111")):
    shapes.append(dict(type="line", xref="paper", yref="paper", x0=fx(19.5), x1=fx(27.5),
                       y0=fy(py), y1=fy(py), layer="above",
                       line=dict(color=colour, width=2.5)))

# drop shadows of the two text boxes
for l, t, r, b in ((448, 233, 608, 263), (668, 208, 875, 298)):
    shapes.append(dict(type="rect", xref="paper", yref="paper",
                       x0=fx(l + 3), x1=fx(r + 3), y0=fy(b + 3), y1=fy(t + 3),
                       layer="above", fillcolor="#9a9aa6", line=dict(width=0)))

# ── Annotations ───────────────────────────────────────────────────────────────
LEG_BG = "rgba(218,218,234,0.92)"


def text(s, px, py, size, color="#000000", anchor="left", bg=None):
    a = dict(xref="paper", yref="paper", x=fx(px), y=fy(py), xanchor=anchor,
             yanchor="middle", text=s, showarrow=False, borderpad=0,
             font=dict(size=size, color=color))
    if bg:
        a["bgcolor"] = bg
    return a


chg = CLOSE[-1] - CLOSE[-2]
nb = "\u00a0"
annotations = [
    text("<b>$VIX</b>", 15.5, 10.5, 12),
    text("Volatility Index - New Methodology", 49.5, 11, 9.5),
    text("INDX", 220, 11.5, 8),
    text("28-Mar-2014", 15.5, 23.5, 9.5),
    text("\u00a9 StockCharts.com", 1031, 10.7, 9.5, "#555555", "right"),
    text(f"<b>Open</b> {OPEN[-1]:.2f}{nb}{nb}<b>High</b> {HIGH[-1]:.2f}{nb}{nb}"
         f"<b>Low</b> {LOW[-1]:.2f}{nb}{nb}<b>Close</b> {CLOSE[-1]:.2f}{nb}{nb}"
         f"<b>Chg</b> {chg:.2f} ({chg / CLOSE[-2] * 100:.2f}%) "
         f"<span style='color:#b0103a'>\u25bc</span>", 1031, 23.5, 9.5, "#111111", "right"),
    # panel titles
    text(f"RSI(14) {RSI[-1]:.2f}", 30, 36, 11),
    text(f"$VIX (Weekly) {CLOSE[-1]:.2f}", 30, 179.5, 11, bg=LEG_BG),
    text(f"BB(20,2.0) {BB_LOWER[-1]:.2f} - {BB_MID[-1]:.2f} - {BB_UPPER[-1]:.2f}",
         30, 192.7, 8.5, "#9a9a9a", bg=LEG_BG),
    text(f"MA(10) {MA10[-1]:.2f}", 30, 204.3, 8.5, C_MA10, bg=LEG_BG),
    text(f"MA(50) {MA50[-1]:.2f}", 30, 215.3, 8.5, C_MA50, bg=LEG_BG),
    text(f"MA(100) {MA100[-1]:.2f}", 30, 225.3, 8.5, C_MA100, bg=LEG_BG),
    text(f"MA(200) {MA200[-1]:.2f}", 30, 236.3, 8.5, C_MA200, bg=LEG_BG),
    text(f"MACD(12,26,9) {MACD[-1]:.3f}<span style='color:#ff1a1a'>, {SIGNAL[-1]:.3f}</span>"
         f"<span style='color:{C_HIST}'>, {HIST[-1]:.3f}</span>", 31, 610.7, 11),
    text(f"MACD(12,26,9) Hist {HIST[-1]:.3f}", 31, 755.3, 11),
    text(f"Full STO %K(14,3) %D(3) {STO_K[-1]:.2f}, "
         f"<span style='color:#ff1a1a'>{STO_D[-1]:.2f}</span>", 31, 900.3, 11),
    text(f"ADX(14) {ADX[-1]:.2f} <span style='color:{C_PDI_TXT}'>+DI {PLUS_DI[-1]:.2f}</span> "
         f"<span style='color:{C_MDI}'>-DI {MINUS_DI[-1]:.2f}</span>", 31, 1045.7, 11),
]

# chart notes
annotations.append(dict(
    xref="paper", yref="paper", x=fx(528), y=fy(248), xanchor="center", yanchor="middle",
    text="<b>VIX, weekly, 2yr</b>", showarrow=False, width=154, height=24, borderpad=2,
    bgcolor="#ffffff", bordercolor="#8a8a8a", borderwidth=1,
    font=dict(family="Liberation Sans", size=19, color="#000000")))
annotations.append(dict(
    xref="paper", yref="paper", x=fx(668), y=fy(208), xanchor="left", yanchor="top",
    text="<b>The VIX has remained remarkably<br>low for over two years.<br>"
         "2012 peak: 27<br>2013 peak: 21<br>2014 peak:\u00a0\u00a0?</b>",
    align="left", showarrow=False, width=201, height=82, borderpad=2,
    bgcolor="#ffffff", bordercolor="#8a8a8a", borderwidth=1,
    font=dict(family="Liberation Sans", size=12, color="#000000")))

# last-value tags on the right-hand scale
TAGS = [
    ("y", RSI[-1], "#000000", False),
    ("y2", MA200[-1], C_MA200, False),
    ("y2", BB_UPPER[-1], "#9a9a9a", False),
    ("y2", MA100[-1], C_MA100, False),
    ("y2", MA10[-1], C_MA10, False),
    ("y2", CLOSE[-1], "#000000", True),
    ("y3", SIGNAL[-1], "#ff1a1a", False),
    ("y3", MACD[-1], "#000000", False),
    ("y4", HIST[-1], "#6a8aa0", False),
    ("y5", STO_D[-1], "#ff1a1a", False),
    ("y5", STO_K[-1], "#000000", False),
    ("y6", ADX[-1], "#000000", False),
    ("y6", PLUS_DI[-1], C_PDI_TXT, False),
    ("y6", MINUS_DI[-1], C_MDI, False),
]
for yref, val, colour, bold in TAGS:
    fmt = f"{val:.3f}" if yref in ("y3", "y4") else f"{val:.2f}"
    annotations.append(dict(
        xref="paper", yref=yref, x=1, y=val, xanchor="left", yanchor="middle", xshift=3,
        text=f"<b>{fmt}</b>" if bold else fmt, showarrow=False, borderpad=0,
        bgcolor="#ffffff", bordercolor=colour, borderwidth=1,
        font=dict(size=9.5 if bold else 9, color="#111111")))

fig.update_layout(
    width=FIG_W, height=FIG_H,
    margin=dict(l=PLOT_L, r=FIG_W - PLOT_R, t=0, b=0),
    paper_bgcolor="#ffffff", plot_bgcolor=C_BG,
    font=dict(family="DejaVu Sans", size=9, color="#222222"),
    showlegend=False, bargap=0.3, boxgap=0.28,
    shapes=shapes, annotations=annotations,
    **layout,
)

# the page's default body margin would push the chart 8px off the window
fig.write_html("out.html", config={"displayModeBar": False},
               post_script="document.body.style.margin='0';")
